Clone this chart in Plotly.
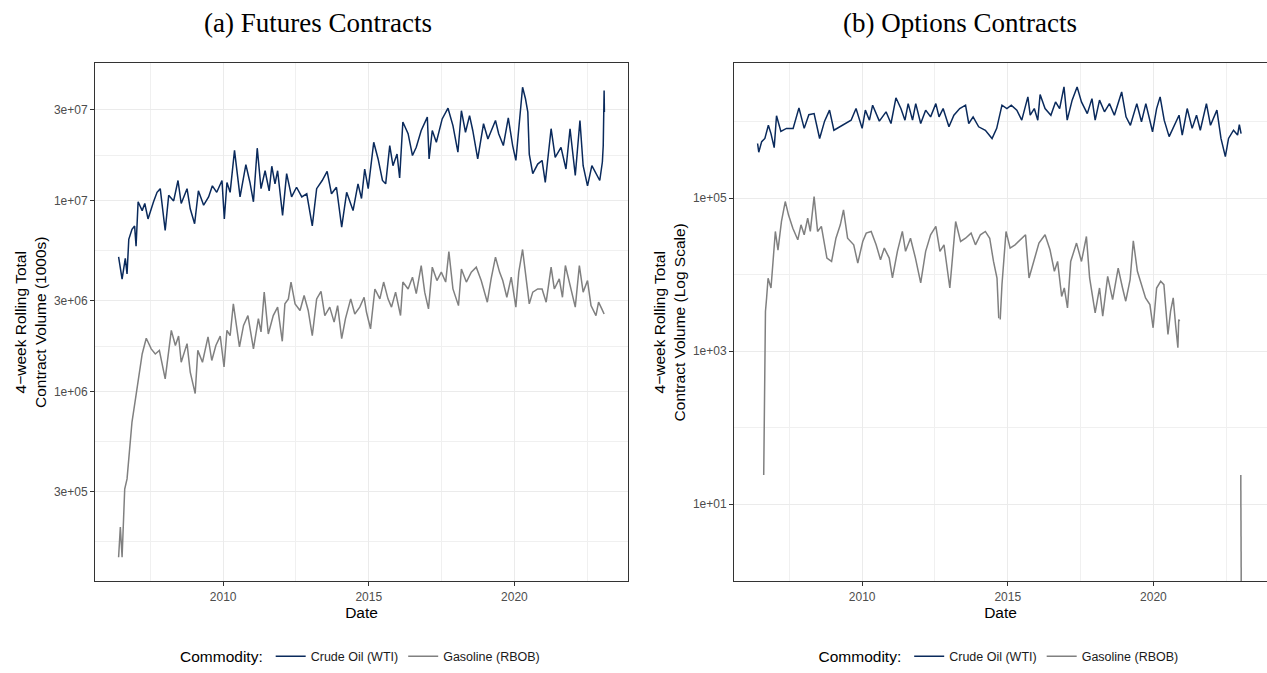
import plotly.graph_objects as go

# ---------------- data ----------------
# (a) Futures, Crude Oil (WTI): decimal year, 4-week rolling volume (1000s)
fut_crude_t = [2006.41, 2006.53, 2006.64, 2006.70, 2006.76, 2006.87, 2006.96, 2007.01, 2007.08, 2007.22,
               2007.31, 2007.42, 2007.61, 2007.73, 2007.84, 2008.01, 2008.13, 2008.30, 2008.45, 2008.56,
               2008.76, 2008.87, 2009.02, 2009.15, 2009.33, 2009.50, 2009.63, 2009.78, 2009.96, 2010.04,
               2010.13, 2010.24, 2010.39, 2010.58, 2010.78, 2010.92, 2011.04, 2011.17, 2011.30, 2011.44,
               2011.58, 2011.67, 2011.78, 2011.87, 2012.04, 2012.18, 2012.35, 2012.52, 2012.70, 2012.87,
               2013.06, 2013.21, 2013.40, 2013.57, 2013.72, 2013.89, 2014.07, 2014.24, 2014.46, 2014.63,
               2014.75, 2014.86, 2014.98, 2015.17, 2015.32, 2015.47, 2015.58, 2015.72, 2015.83, 2015.97,
               2016.06, 2016.17, 2016.35, 2016.50, 2016.63, 2016.80, 2017.01, 2017.07, 2017.18, 2017.32,
               2017.52, 2017.72, 2017.89, 2018.06, 2018.18, 2018.32, 2018.46, 2018.57, 2018.74, 2018.94,
               2019.09, 2019.20, 2019.35, 2019.46, 2019.62, 2019.79, 2019.94, 2020.05, 2020.15, 2020.28,
               2020.38, 2020.46, 2020.51, 2020.63, 2020.80, 2020.95, 2021.06, 2021.26, 2021.40, 2021.60,
               2021.77, 2021.91, 2022.09, 2022.25, 2022.36, 2022.51, 2022.66, 2022.82, 2022.93, 2023.02,
               2023.05, 2023.08, 2023.09]
fut_crude_v = [5.1e6, 3.9e6, 5.0e6, 4.15e6, 6.3e6, 7.1e6, 7.4e6, 5.8e6, 9.9e6, 8.9e6,
               9.7e6, 8.05e6, 9.9e6, 1.11e7, 1.16e7, 7.0e6, 1.07e7, 1.0e7, 1.28e7, 9.7e6,
               1.16e7, 9.1e6, 7.6e6, 1.13e7, 9.5e6, 1.05e7, 1.2e7, 1.11e7, 1.28e7, 8.05e6,
               1.25e7, 1.11e7, 1.84e7, 1.05e7, 1.55e7, 1.25e7, 9.9e6, 1.89e7, 1.16e7, 1.44e7,
               1.13e7, 1.52e7, 1.23e7, 1.44e7, 8.4e6, 1.39e7, 1.05e7, 1.18e7, 1.05e7, 1.09e7,
               7.4e6, 1.16e7, 1.28e7, 1.43e7, 1.09e7, 1.18e7, 7.3e6, 1.11e7, 8.9e6, 1.23e7,
               1.03e7, 1.47e7, 1.16e7, 2.03e7, 1.66e7, 1.28e7, 1.23e7, 1.95e7, 1.53e7, 1.76e7,
               1.32e7, 2.59e7, 2.25e7, 1.73e7, 1.91e7, 2.34e7, 2.75e7, 1.66e7, 2.34e7, 2.03e7,
               2.69e7, 3.06e7, 2.48e7, 1.8e7, 2.97e7, 2.29e7, 2.8e7, 2.34e7, 1.66e7, 2.54e7,
               2.11e7, 2.34e7, 2.64e7, 2.25e7, 1.95e7, 2.72e7, 1.95e7, 1.63e7, 2.39e7, 3.94e7,
               3.43e7, 2.92e7, 1.76e7, 1.39e7, 1.56e7, 1.63e7, 1.25e7, 2.39e7, 1.69e7, 1.91e7,
               1.47e7, 2.39e7, 1.36e7, 2.64e7, 1.53e7, 1.2e7, 1.53e7, 1.39e7, 1.28e7, 1.6e7,
               1.95e7, 3.79e7, 2.92e7]

# (a) Futures, Gasoline (RBOB)
fut_gas_t = [2006.41, 2006.47, 2006.53, 2006.62, 2006.70, 2006.76, 2006.87, 2006.99, 2007.10, 2007.22,
             2007.36, 2007.53, 2007.67, 2007.81, 2008.01, 2008.11, 2008.22, 2008.36, 2008.47, 2008.56,
             2008.76, 2008.87, 2009.04, 2009.13, 2009.29, 2009.48, 2009.61, 2009.75, 2009.90, 2010.03,
             2010.13, 2010.24, 2010.35, 2010.56, 2010.70, 2010.85, 2011.04, 2011.21, 2011.30, 2011.41,
             2011.55, 2011.72, 2011.87, 2012.03, 2012.12, 2012.24, 2012.33, 2012.47, 2012.64, 2012.78,
             2012.92, 2013.06, 2013.21, 2013.36, 2013.49, 2013.66, 2013.81, 2013.93, 2014.07, 2014.20,
             2014.38, 2014.52, 2014.69, 2014.84, 2014.92, 2015.06, 2015.21, 2015.38, 2015.51, 2015.66,
             2015.78, 2015.92, 2016.09, 2016.17, 2016.35, 2016.50, 2016.63, 2016.80, 2016.92, 2017.05,
             2017.18, 2017.34, 2017.49, 2017.64, 2017.75, 2017.89, 2018.08, 2018.18, 2018.35, 2018.52,
             2018.69, 2018.86, 2019.07, 2019.20, 2019.35, 2019.49, 2019.60, 2019.74, 2019.89, 2020.05,
             2020.15, 2020.28, 2020.40, 2020.51, 2020.63, 2020.80, 2020.95, 2021.09, 2021.26, 2021.37,
             2021.54, 2021.65, 2021.75, 2021.91, 2022.09, 2022.23, 2022.36, 2022.51, 2022.63, 2022.80,
             2022.89, 2023.00, 2023.08]
fut_gas_v = [1.36e5, 1.96e5, 1.36e5, 3.1e5, 3.5e5, 4.65e5, 6.95e5, 9.2e5, 1.22e6, 1.58e6,
             1.91e6, 1.68e6, 1.58e6, 1.65e6, 1.17e6, 1.55e6, 2.1e6, 1.75e6, 1.96e6, 1.43e6,
             1.79e6, 1.27e6, 9.8e5, 1.65e6, 1.43e6, 1.94e6, 1.46e6, 1.75e6, 1.96e6, 1.35e6,
             2.1e6, 1.97e6, 2.89e6, 1.72e6, 2.23e6, 2.51e6, 1.68e6, 2.42e6, 2.06e6, 3.33e6,
             2.01e6, 2.51e6, 2.78e6, 1.84e6, 2.89e6, 3.07e6, 3.76e6, 2.89e6, 2.67e6, 3.2e6,
             2.67e6, 1.97e6, 3.07e6, 3.36e6, 2.51e6, 2.78e6, 2.32e6, 2.83e6, 1.9e6, 2.42e6,
             3.07e6, 2.56e6, 2.78e6, 3.13e6, 2.62e6, 2.14e6, 3.46e6, 3.07e6, 3.76e6, 3.07e6,
             2.78e6, 3.33e6, 2.51e6, 3.76e6, 3.46e6, 3.99e6, 3.27e6, 4.59e6, 3.33e6, 2.72e6,
             4.5e6, 3.83e6, 4.24e6, 3.76e6, 5.43e6, 3.46e6, 2.83e6, 4.4e6, 3.76e6, 4.24e6,
             4.5e6, 3.83e6, 2.95e6, 3.91e6, 5.08e6, 4.24e6, 3.83e6, 3.13e6, 3.99e6, 2.78e6,
             4.24e6, 5.57e6, 3.91e6, 2.89e6, 3.33e6, 3.46e6, 3.46e6, 2.95e6, 4.5e6, 3.46e6,
             3.91e6, 3.13e6, 4.59e6, 3.6e6, 2.78e6, 4.59e6, 3.33e6, 3.83e6, 2.83e6, 2.51e6,
             2.95e6, 2.72e6, 2.56e6]

# (b) Options, Crude Oil (WTI)
opt_crude_t = [2006.41, 2006.45, 2006.55, 2006.66, 2006.78, 2006.87, 2006.98, 2007.06, 2007.21, 2007.40,
               2007.63, 2007.83, 2008.01, 2008.17, 2008.35, 2008.54, 2008.71, 2008.88, 2009.03,
               2009.23, 2009.40, 2009.62, 2009.79, 2010.00, 2010.11, 2010.25, 2010.36, 2010.59, 2010.82,
               2010.99, 2011.16, 2011.33, 2011.47, 2011.58, 2011.73, 2011.84, 2012.01, 2012.18,
               2012.35, 2012.53, 2012.64, 2012.78, 2012.98, 2013.15, 2013.35, 2013.55, 2013.66, 2013.81,
               2014.00, 2014.23, 2014.46, 2014.62, 2014.80, 2014.97, 2015.12, 2015.31, 2015.48, 2015.69,
               2015.77, 2015.91, 2016.03, 2016.11, 2016.28, 2016.48, 2016.64, 2016.78, 2016.93, 2017.04,
               2017.21, 2017.38, 2017.53, 2017.73, 2017.89, 2018.00, 2018.15, 2018.32, 2018.49, 2018.66,
               2018.91, 2019.06, 2019.21, 2019.43, 2019.59, 2019.74, 2019.97, 2020.11, 2020.23, 2020.37,
               2020.54, 2020.71, 2020.88, 2020.99, 2021.16, 2021.33, 2021.48, 2021.61, 2021.82, 2021.96,
               2022.18, 2022.32, 2022.47, 2022.58, 2022.75, 2022.89, 2022.95, 2023.01]
opt_crude_v = [5.2e5, 4.0e5, 5.5e5, 6.05e5, 9.0e5, 7.0e5, 4.6e5, 1.2e6, 7.5e5, 8.2e5,
               8.2e5, 1.52e6, 8.2e5, 1.24e6, 1.28e6, 6.05e5, 1.02e6, 1.42e6, 7.76e5,
               8.6e5, 9.5e5, 1.05e6, 1.49e6, 8.2e5, 1.42e6, 1.05e6, 1.65e6, 1.02e6, 1.35e6,
               9.5e5, 2.06e6, 1.49e6, 1.05e6, 1.73e6, 1.05e6, 1.73e6, 9.5e5, 1.42e6,
               1.16e6, 1.73e6, 1.16e6, 1.49e6, 8.6e5, 1.22e6, 1.49e6, 1.65e6, 9.5e5, 1.16e6,
               8.6e5, 7.76e5, 6.05e5, 8.2e5, 1.65e6, 1.49e6, 1.65e6, 1.42e6, 1.05e6, 2.12e6,
               1.22e6, 1.49e6, 1.05e6, 2.27e6, 1.49e6, 1.22e6, 1.82e6, 1.49e6, 2.86e6, 1.05e6,
               1.92e6, 2.86e6, 1.82e6, 1.28e6, 2.01e6, 1.05e6, 1.92e6, 1.35e6, 1.73e6, 1.22e6,
               2.46e6, 1.16e6, 9.0e5, 1.73e6, 1.0e6, 1.73e6, 7.4e5, 1.49e6, 2.12e6, 1.05e6,
               6.4e5, 9.0e5, 1.22e6, 6.7e5, 1.49e6, 8.2e5, 1.22e6, 7.76e5, 1.73e6, 9.0e5,
               1.42e6, 6.05e5, 3.5e5, 6.05e5, 7.76e5, 6.7e5, 9.2e5, 7.0e5]

# (b) Options, Gasoline (RBOB); None = missing weeks, last value = zero volume (off the log axis)
opt_gas_t = [2006.62, 2006.635, 2006.65, 2006.68, 2006.72, 2006.77, 2006.87, 2006.94, 2007.02, 2007.11,
             2007.23, 2007.36, 2007.47, 2007.62, 2007.79, 2007.90, 2008.01, 2008.13, 2008.22, 2008.35,
             2008.47, 2008.60, 2008.79, 2008.95, 2009.10, 2009.25, 2009.36, 2009.50, 2009.71, 2009.85,
             2010.02, 2010.14, 2010.31, 2010.48, 2010.63, 2010.76, 2010.93, 2011.04, 2011.21, 2011.38,
             2011.49, 2011.66, 2011.83, 2012.01, 2012.18, 2012.35, 2012.53, 2012.67, 2012.81, 2013.01,
             2013.21, 2013.38, 2013.55, 2013.74, 2013.89, 2014.06, 2014.23, 2014.38, 2014.51, 2014.63,
             2014.69, 2014.72, 2014.74, 2014.80, 2014.94, 2015.08, 2015.25, 2015.48, 2015.61, 2015.73,
             2015.91, 2016.07, 2016.28, 2016.45, 2016.60, 2016.71, 2016.85, 2016.94, 2017.05, 2017.16,
             2017.36, 2017.53, 2017.70, 2017.81, 2018.00, 2018.15, 2018.26, 2018.43, 2018.60, 2018.79,
             2018.94, 2019.05, 2019.20, 2019.31, 2019.45, 2019.59, 2019.73, 2019.88, 2019.99, 2020.11,
             2020.25, 2020.36, 2020.50, 2020.59, 2020.68, 2020.76, 2020.84, 2020.87, 2020.90, 2021.50,
             2023.00, 2023.01, 2023.02]
opt_gas_v = [24, 145, 1.0e3, 3.3e3, 5.0e3, 9.0e3, 6.7e3, 1.65e4, 3.68e4, 2.1e4,
             4.97e4, 9.06e4, 6.07e4, 4.06e4, 2.86e4, 4.49e4, 3.33e4, 5.48e4, 3.68e4, 1.05e5,
             3.68e4, 4.28e4, 1.65e4, 1.49e4, 3.0e4, 4.49e4, 7.04e4, 3.0e4, 2.46e4, 1.42e4,
             2.72e4, 3.5e4, 3.68e4, 2.46e4, 1.57e4, 2.23e4, 1.65e4, 9.06e3, 2.02e4, 3.68e4,
             2.02e4, 3.0e4, 1.65e4, 7.8e3, 2.02e4, 3.33e4, 4.28e4, 2.02e4, 2.46e4, 6.7e3,
             4.97e4, 2.72e4, 3.0e4, 3.5e4, 2.46e4, 3.33e4, 3.68e4, 3.0e4, 1.49e4, 9.06e3,
             2.7e3, None, 2.6e3, 7.4e3, 3.68e4, 2.23e4, 2.46e4, 3.0e4, 3.33e4, 9.06e3,
             1.65e4, 2.59e4, 3.33e4, 2.12e4, 1.11e4, 1.49e4, 5.2e3, 6.7e3, 3.68e3, 1.49e4,
             2.59e4, 1.49e4, 3.16e4, 9.06e3, 3.16e3, 6.7e3, 2.87e3, 9.5e3, 4.72e3, 1.22e4,
             6.7e3, 4.5e3, 8.6e3, 2.77e4, 1.11e4, 7.4e3, 4.97e3, 4.06e3, 2.02e3, 6.7e3,
             8.2e3, 7.4e3, 1.65e3, 3.33e3, 4.97e3, 2.23e3, 1.11e3, 2.59e3, 2.45e3, None,
             24, 2, 0.3]

# axis ticks
x_ticks = [2010, 2015, 2020]
x_minor = [2007.5, 2012.5, 2017.5, 2022.5]
fut_y_ticks = [3e5, 1e6, 3e6, 1e7, 3e7]
fut_y_text = ["3e+05", "1e+06", "3e+06", "1e+07", "3e+07"]
fut_y_minor = [1.643e5, 5.477e5, 1.732e6, 5.477e6, 1.732e7, 5.2e7]
opt_y_ticks = [1e1, 1e3, 1e5]
opt_y_text = ["1e+01", "1e+03", "1e+05"]
opt_y_minor = [1e0, 1e2, 1e4, 1e6]

# ---------------- styling ----------------
W, H = 1267, 673
CRUDE = "#0A2A5C"
GAS = "#808080"
SANS = "Liberation Sans, Arial, sans-serif"
SERIF = "Liberation Serif, Times New Roman, serif"

fig = go.Figure()
fig.add_trace(go.Scatter(x=fut_crude_t, y=fut_crude_v, mode="lines", name="Crude Oil (WTI)",
                         line=dict(color=CRUDE, width=1.5), xaxis="x", yaxis="y", legend="legend"))
fig.add_trace(go.Scatter(x=fut_gas_t, y=fut_gas_v, mode="lines", name="Gasoline (RBOB)",
                         line=dict(color=GAS, width=1.5), xaxis="x", yaxis="y", legend="legend"))
fig.add_trace(go.Scatter(x=opt_crude_t, y=opt_crude_v, mode="lines", name="Crude Oil (WTI)",
                         line=dict(color=CRUDE, width=1.5), xaxis="x2", yaxis="y2", legend="legend2"))
fig.add_trace(go.Scatter(x=opt_gas_t, y=opt_gas_v, mode="lines", name="Gasoline (RBOB)",
                         line=dict(color=GAS, width=1.5), xaxis="x2", yaxis="y2", legend="legend2"))

ydom = [(673 - 583) / H, (673 - 63.5) / H]
common_axis = dict(showline=True, mirror=True, linecolor="#333333", linewidth=1,
                   ticks="outside", ticklen=4, tickwidth=1, tickcolor="#333333",
                   gridcolor="#EBEBEB", gridwidth=1.2, zeroline=False,
                   tickfont=dict(family=SANS, size=12, color="#4D4D4D"),
                   showspikes=False)

def xaxis(dom, anchor):
    return dict(domain=dom, anchor=anchor, range=[2005.6, 2023.9], tickmode="array",
                tickvals=x_ticks, ticktext=[str(v) for v in x_ticks],
                minor=dict(tickvals=x_minor, showgrid=True, gridcolor="#F0F0F0", gridwidth=0.9),
                title=dict(text="Date", font=dict(family=SANS, size=15.5, color="black"), standoff=3),
                **common_axis)

def yaxis(rng, tv, tt, mv, title, anchor):
    return dict(domain=ydom, anchor=anchor, type="log", range=rng, tickmode="array",
                tickvals=tv, ticktext=tt,
                minor=dict(tickvals=mv, showgrid=True, gridcolor="#F0F0F0", gridwidth=0.9),
                title=dict(text=title, font=dict(family=SANS, size=15.5, color="black"), standoff=3),
                **common_axis)

legend_common = dict(orientation="h", yanchor="middle", y=(673 - 659) / H, xanchor="center",
                     font=dict(family=SANS, size=12.5, color="#1A1A1A"),
                     title=dict(text="Commodity:", side="left", font=dict(family=SANS, size=15.5, color="black")),
                     itemwidth=30, bgcolor="rgba(0,0,0,0)", tracegroupgap=0)

fig.update_layout(
    width=W, height=H, margin=dict(l=0, r=0, t=0, b=0),
    paper_bgcolor="white", plot_bgcolor="white", showlegend=True,
    xaxis=xaxis([95 / W, 628 / W], "y"),
    yaxis=yaxis([5.008, 7.721], fut_y_ticks, fut_y_text, fut_y_minor,
                "4\u2212week Rolling Total<br>Contract Volume (1000s)", "x"),
    xaxis2=xaxis([734 / W, 1.0], "y2"),
    yaxis2=yaxis([-0.01, 6.765], opt_y_ticks, opt_y_text, opt_y_minor,
                 "4\u2212week Rolling Total<br>Contract Volume (Log Scale)", "x2"),
    legend=dict(x=361.5 / W, **legend_common),
    legend2=dict(x=1000 / W, **legend_common),
    annotations=[
        dict(text="(a) Futures Contracts", x=317.5 / W, y=1 - 23 / H, xref="paper", yref="paper",
             showarrow=False, xanchor="center", yanchor="middle",
             font=dict(family=SERIF, size=27, color="black")),
        dict(text="(b) Options Contracts", x=959.5 / W, y=1 - 23 / H, xref="paper", yref="paper",
             showarrow=False, xanchor="center", yanchor="middle",
             font=dict(family=SERIF, size=27, color="black")),
    ],
)

fig.write_html("out.html")
